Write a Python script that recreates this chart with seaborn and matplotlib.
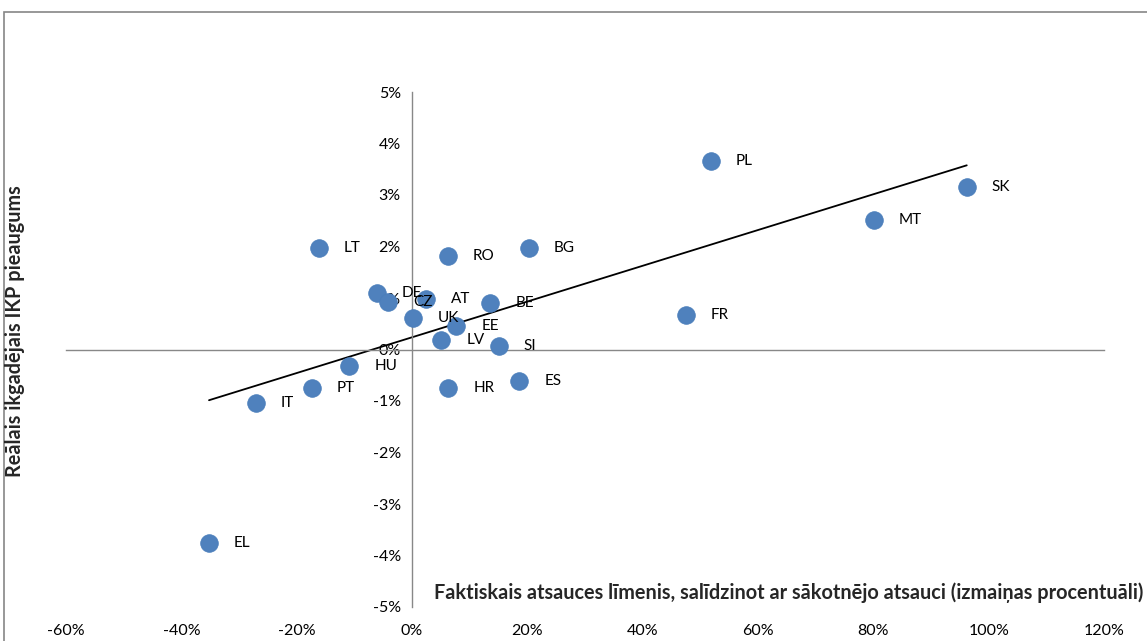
import matplotlib
matplotlib.use("Agg")
import matplotlib.pyplot as plt
import matplotlib.ticker as mticker
from matplotlib.patches import Rectangle
import numpy as np
import pandas as pd
import seaborn as sns

countries = ["EL", "IT", "PT", "HU", "LT", "DE", "CZ", "AT", "UK", "RO", "BG",
             "BE", "EE", "LV", "SI", "HR", "ES", "PL", "SK", "MT", "FR"]
x_change = [-35.2, -27.1, -17.4, -10.9, -16.2, -6.1, -4.2, 2.5, 0.1, 6.2, 20.3,
            13.6, 7.7, 5.1, 15.0, 6.3, 18.6, 51.8, 96.2, 80.1, 47.5]
gdp_growth = [-3.76, -1.03, -0.74, -0.33, 1.98, 1.10, 0.92, 0.98, 0.62, 1.82, 1.98,
              0.90, 0.46, 0.18, 0.07, -0.75, -0.61, 3.66, 3.16, 2.51, 0.67]
x_ticks = [-60, -40, -20, 0, 20, 40, 60, 80, 100, 120]
y_ticks = [-5, -4, -3, -2, -1, 0, 1, 2, 3, 4, 5]
x_title = "Faktiskais atsauces līmenis, salīdzinot ar sākotnējo atsauci (izmaiņas procentuāli)"
y_title = "Reālais ikgadējais IKP pieaugums"

df = pd.DataFrame({"country": countries, "x": x_change, "y": gdp_growth})

sns.set_style("white")
plt.rcParams["font.family"] = ["Lato", "DejaVu Sans"]
plt.rcParams["axes.unicode_minus"] = False

fig = plt.figure(figsize=(11.47, 6.41), dpi=100)
ax = fig.add_axes([66 / 1147, 1 - 607 / 641, (1104 - 66) / 1147, (607 - 92) / 641])

sns.regplot(data=df, x="x", y="y", scatter=False, ci=None, truncate=True,
            line_kws=dict(color="black", lw=1.3), ax=ax)
sns.scatterplot(data=df, x="x", y="y", s=160, color="#4F81BD",
                edgecolor="#4A7EBB", linewidth=0.6, ax=ax, zorder=3)

for c, xv, yv in zip(df["country"], df["x"], df["y"]):
    ax.annotate(c, (xv, yv), xytext=(18, 0), textcoords="offset points",
                ha="left", va="center", fontsize=11, color="#000000", zorder=4)

ax.set_xlim(x_ticks[0], x_ticks[-1])
ax.set_ylim(y_ticks[0], y_ticks[-1])
ax.set_xticks(x_ticks)
ax.set_yticks(y_ticks)
ax.set_xlabel("")
ax.set_ylabel("")

axis_col = "#888888"
for s in ["top", "right"]:
    ax.spines[s].set_visible(False)
ax.spines["left"].set_position(("data", 0))
ax.spines["bottom"].set_position(("data", 0))
for s in ["left", "bottom"]:
    ax.spines[s].set_color(axis_col)
    ax.spines[s].set_linewidth(1.0)

ax.yaxis.set_major_formatter(mticker.FuncFormatter(lambda v, p: f"{v:.0f}%"))
ax.tick_params(axis="y", direction="out", length=5, width=1, color=axis_col,
               labelsize=11.5, labelcolor="#000000", pad=3)
ax.tick_params(axis="x", direction="out", length=5, width=1, color=axis_col,
               labelbottom=False)

sec = ax.secondary_xaxis(0)
sec.set_xticks(x_ticks)
sec.xaxis.set_major_formatter(mticker.FuncFormatter(lambda v, p: f"{v:.0f}%"))
sec.spines["bottom"].set_visible(False)
sec.tick_params(axis="x", length=0, labelsize=11.5, labelcolor="#000000", pad=12)

fig.text(0.9965, 1 - 593 / 641, x_title, ha="right", va="center",
         fontsize=14.3, fontweight="bold")
fig.text(15 / 1147, 1 - 331 / 641, y_title, ha="center", va="center",
         rotation=90, fontsize=14.3, fontweight="bold")

fig.patches.append(Rectangle((4 / 1147, -0.1), 1.2, 1.1 - 12 / 641,
                             transform=fig.transFigure, fill=False,
                             edgecolor="#868686", lw=1.2))

fig.savefig("out.png", dpi=100)
